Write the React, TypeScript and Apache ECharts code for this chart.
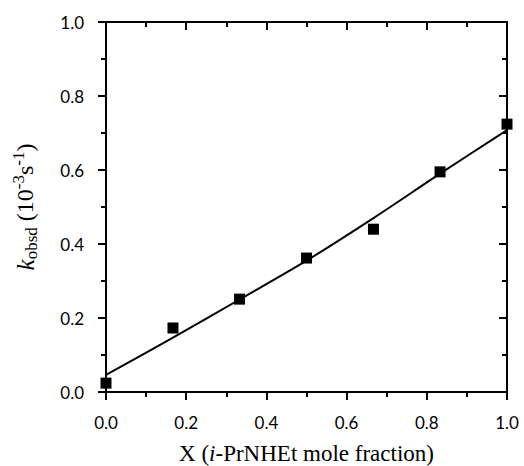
import React, { useEffect, useRef } from "react";
import * as echarts from "echarts";

const pointX = [0, 0.167, 0.333, 0.5, 0.667, 0.833, 1.0];
const pointY = [0.024, 0.173, 0.251, 0.362, 0.44, 0.595, 0.724];
const fitX = [0, 0.167, 0.333, 0.5, 0.667, 0.833, 1.0];
const fitY = [0.046, 0.147, 0.25, 0.355, 0.47, 0.59, 0.708];
const axisTicks = [0, 0.2, 0.4, 0.6, 0.8, 1.0];

const tickFont = "Lato, 'DejaVu Sans', sans-serif";
const serif = "'Liberation Serif', 'Times New Roman', serif";

export default function App() {
  const ref = useRef<HTMLDivElement>(null);
  useEffect(() => {
    if (!ref.current) return;
    const chart = echarts.init(ref.current, null, { renderer: "svg" });
    const lineStyle = { color: "#000", width: 2, opacity: 1 };
    const tickStyle = { color: "#000", width: 2, opacity: 1 };
    const baseAxis = {
      type: "value",
      min: axisTicks[0],
      max: axisTicks[axisTicks.length - 1],
      interval: 0.2,
      splitLine: { show: false },
      axisLine: { show: true, onZero: false, lineStyle },
      minorTick: { show: true, splitNumber: 2, length: 5, lineStyle: tickStyle },
      minorSplitLine: { show: false },
    };
    chart.setOption({
      animation: false,
      backgroundColor: "#fff",
      grid: { left: 106, top: 22, right: 17, bottom: 74, containLabel: false, outerBoundsMode: "none" },
      xAxis: [
        {
          ...baseAxis,
          position: "bottom",
          axisTick: { show: true, inside: false, length: 8, lineStyle: tickStyle },
          axisLabel: {
            margin: 22,
            color: "#000",
            fontFamily: tickFont,
            fontSize: 17,
            formatter: (v: number) => v.toFixed(1),
          },
          name: "{n|X (}{i|i}{n|-PrNHEt mole fraction)}",
          nameLocation: "middle",
          nameGap: 49,
          nameTextStyle: {
            lineHeight: 24,
            rich: {
              n: { fontFamily: serif, fontSize: 23, lineHeight: 24, color: "#000" },
              i: { fontFamily: serif, fontSize: 23, lineHeight: 24, color: "#000", fontStyle: "italic" },
            },
          },
        },
        {
          ...baseAxis,
          position: "top",
          axisTick: { show: true, inside: true, length: 8, lineStyle: tickStyle },
          axisLabel: { show: false },
        },
      ],
      yAxis: [
        {
          ...baseAxis,
          position: "left",
          axisTick: { show: true, inside: false, length: 8, lineStyle: tickStyle },
          axisLabel: {
            margin: 22,
            color: "#000",
            fontFamily: tickFont,
            fontSize: 17,
            formatter: (v: number) => v.toFixed(1),
          },
          name: "{k|k}{sub|obsd}{n| (10}{sup|-3}{n|s}{sup|-1}{n|)}",
          nameLocation: "middle",
          nameGap: 66,
          nameRotate: 90,
          nameTextStyle: {
            lineHeight: 30,
            rich: {
              k: { fontFamily: serif, fontSize: 25, color: "#000", fontStyle: "italic", lineHeight: 30, verticalAlign: "middle" },
              n: { fontFamily: serif, fontSize: 24, color: "#000", lineHeight: 30, verticalAlign: "middle" },
              sub: { fontFamily: serif, fontSize: 17, color: "#000", lineHeight: 30, verticalAlign: "bottom" },
              sup: { fontFamily: serif, fontSize: 17, color: "#000", lineHeight: 30, verticalAlign: "top" },
            },
          },
        },
        {
          ...baseAxis,
          position: "right",
          axisTick: { show: true, inside: true, length: 8, lineStyle: tickStyle },
          axisLabel: { show: false },
        },
      ],
      series: [
        {
          type: "line",
          data: fitX.map((x, i) => [x, fitY[i]]),
          smooth: 0.3,
          showSymbol: false,
          lineStyle: { color: "#000", width: 2 },
          z: 2,
        },
        {
          type: "scatter",
          data: pointX.map((x, i) => [x, pointY[i]]),
          symbol: "rect",
          symbolSize: 11,
          itemStyle: { color: "#000", opacity: 1 },
          z: 3,
        },
      ],
    });
    return () => chart.dispose();
  }, []);
  return (
    <div
      ref={ref}
      style={{ position: "fixed", left: 0, top: 0, width: 524, height: 466, background: "#fff" }}
    />
  );
}
